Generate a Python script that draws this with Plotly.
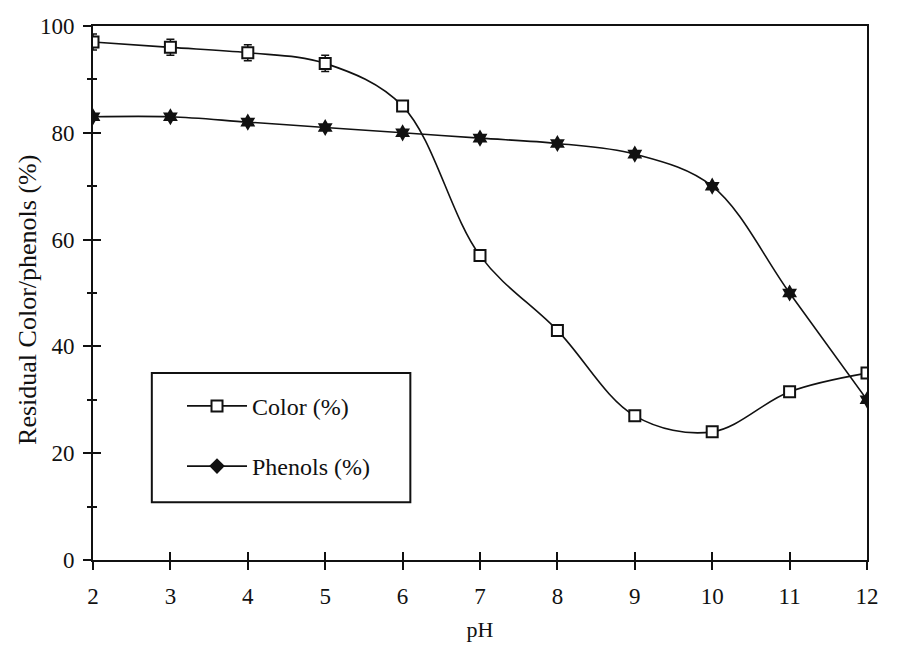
import plotly.graph_objects as go

# data
ph = [2, 3, 4, 5, 6, 7, 8, 9, 10, 11, 12]
color_pct = [97, 96, 95, 93, 85, 57, 43, 27, 24, 31.5, 35]
color_err = [1.5, 1.5, 1.5, 1.5, 0.8, 0.5, 0.5, 0.5, 0.5, 0.8, 0.8]
phenols_pct = [83, 83, 82, 81, 80, 79, 78, 76, 70, 50, 30]

xticks = list(range(2, 13))
yticks = [0, 20, 40, 60, 80, 100]

FONT = "Liberation Serif, Times New Roman, serif"
INK = "#111111"

fig = go.Figure()

# color curve
fig.add_trace(go.Scatter(
    x=ph, y=color_pct, mode="lines+markers", name="Color (%)",
    line=dict(color=INK, width=1.6, shape="spline", smoothing=1.0),
    marker=dict(symbol="square", size=11, color="white", line=dict(color=INK, width=2)),
    error_y=dict(type="data", array=color_err, color=INK, thickness=1.5, width=4),
    legendgroup="a",
))

# phenols curve (legend entry drawn separately with a diamond)
fig.add_trace(go.Scatter(
    x=ph, y=phenols_pct, mode="lines+markers", name="Phenols (%)",
    line=dict(color=INK, width=1.6, shape="spline", smoothing=1.0),
    marker=dict(symbol="hexagram", size=13, color=INK),
    showlegend=False,
))
fig.add_trace(go.Scatter(
    x=[None], y=[None], mode="lines+markers", name="Phenols (%)",
    line=dict(color=INK, width=1.6),
    marker=dict(symbol="diamond", size=12, color=INK),
    legendgroup="b",
))

# dummy trace so the overlay axes (inside ticks) get drawn
fig.add_trace(go.Scatter(x=[None], y=[None], xaxis="x2", yaxis="y2",
                         showlegend=False, hoverinfo="skip"))

axis_common = dict(showgrid=False, zeroline=False, linecolor=INK, linewidth=2,
                   tickcolor=INK, tickwidth=2)

fig.update_layout(
    width=880, height=644,
    margin=dict(l=85, r=21, t=18, b=92),
    paper_bgcolor="white", plot_bgcolor="white",
    font=dict(family=FONT, size=23, color=INK),
    xaxis=dict(range=[2, 12], tickvals=xticks, ticks="outside", ticklen=8,
               ticklabelstandoff=6, showline=True, mirror=True,
               title=dict(text="pH", font=dict(size=22), standoff=14),
               automargin=False, **axis_common),
    yaxis=dict(range=[0, 100], tickvals=yticks, ticks="outside", ticklen=8,
               ticklabelstandoff=4,
               minor=dict(dtick=10, tick0=0, ticks="outside", ticklen=4,
                          tickcolor=INK, tickwidth=2),
               showline=True, mirror=True,
               automargin=False, **axis_common),
    xaxis2=dict(range=[2, 12], tickvals=xticks, ticks="inside", ticklen=8,
                overlaying="x", showticklabels=False, showline=False, **axis_common),
    yaxis2=dict(range=[0, 100], tickvals=yticks, ticks="inside", ticklen=8,
                minor=dict(dtick=10, tick0=0, ticks="inside", ticklen=4,
                           tickcolor=INK, tickwidth=2),
                overlaying="y", showticklabels=False, showline=False, **axis_common),
    legend=dict(x=0.115, y=0.33, xanchor="left", yanchor="top",
                bgcolor="rgba(0,0,0,0)", borderwidth=0,
                font=dict(size=24), tracegroupgap=26, itemwidth=60),
    showlegend=True,
    annotations=[dict(text="Residual Color/phenols (%)", xref="paper", yref="paper",
                      x=-0.084, y=0.487, xanchor="center", yanchor="middle",
                      textangle=-90, showarrow=False, font=dict(size=26))],
    shapes=[dict(type="rect", xref="paper", yref="paper",
                 x0=0.076, x1=0.410, y0=0.108, y1=0.35,
                 line=dict(color=INK, width=2), fillcolor="rgba(0,0,0,0)")],
)

fig.write_html("out.html")
